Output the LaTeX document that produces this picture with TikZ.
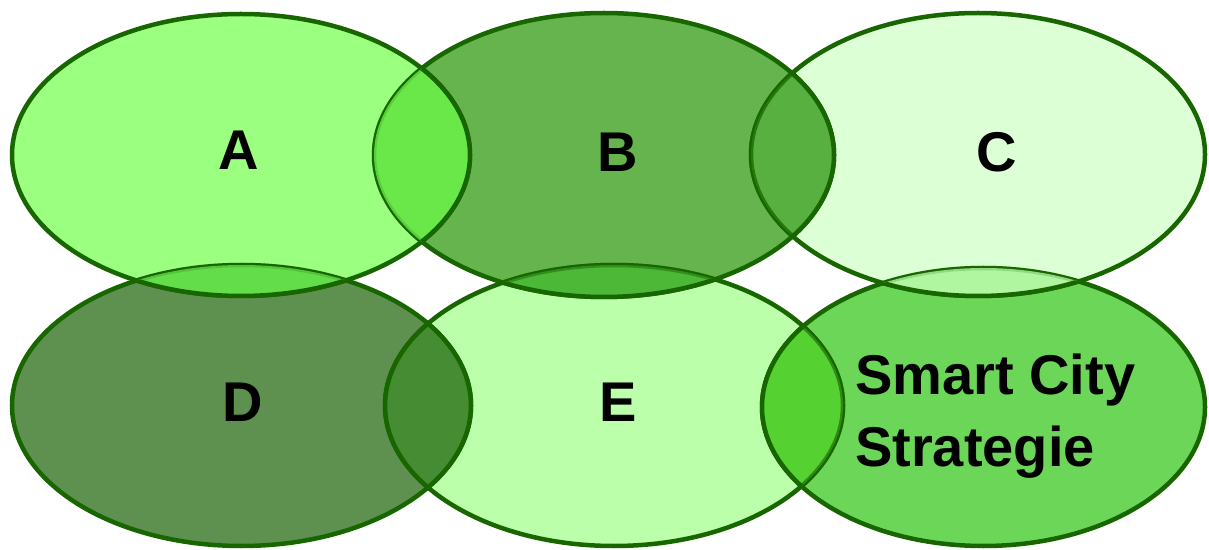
\documentclass[tikz,border=0pt]{standalone}
\usepackage{fontspec}
\setmainfont{Liberation Sans}
\definecolor{strokeG}{HTML}{186600}
\definecolor{cA}{HTML}{9BFF7F}
\definecolor{cB}{HTML}{66B44D}
\definecolor{cC}{HTML}{DDFFD5}
\definecolor{cD}{HTML}{5E9150}
\definecolor{cE}{HTML}{BBFFAA}
\definecolor{cF}{HTML}{6CD658}
\definecolor{cAB}{HTML}{6AE84A}
\definecolor{cAD}{HTML}{64DD4A}
\definecolor{cBC}{HTML}{58B040}
\definecolor{cBE}{HTML}{4DB837}
\definecolor{cCF}{HTML}{B0F5A0}
\definecolor{cDE}{HTML}{468C32}
\definecolor{cEF}{HTML}{55D232}
\def\ellA{(241,394) ellipse [x radius=229, y radius=141]}
\def\ellB{(604,394) ellipse [x radius=230, y radius=142]}
\def\ellC{(978,394.5) ellipse [x radius=227, y radius=141.5]}
\def\ellD{(241.5,143.5) ellipse [x radius=229.5, y radius=140.5]}
\def\ellE{(614,143.5) ellipse [x radius=229, y radius=140.5]}
\def\ellF{(983.5,142) ellipse [x radius=221.5, y radius=139]}
\begin{document}
\begin{tikzpicture}[x=1pt,y=1pt,
  ring/.style={draw=strokeG, line width=4.5pt},
  lbl/.style={font=\fontsize{56}{72}\selectfont\bfseries, text=black, inner sep=0pt}]
\useasboundingbox (0,0) rectangle (1209,549);
% fills
\fill[cA] \ellA; \fill[cB] \ellB; \fill[cC] \ellC;
\fill[cD] \ellD; \fill[cE] \ellE; \fill[cF] \ellF;
% strokes
\path[ring] \ellA; \path[ring] \ellB; \path[ring] \ellC;
\path[ring] \ellD; \path[ring] \ellE; \path[ring] \ellF;
% lens: top A over B
\begin{scope}\clip \ellA; \fill[cAB] \ellB; \path[ring, draw opacity=0.2] \ellB; \end{scope}
\begin{scope}\clip \ellB; \path[ring] \ellA; \end{scope}
% lens: top A over D
\begin{scope}\clip \ellA; \fill[cAD] \ellD; \path[ring, draw opacity=0.2] \ellD; \end{scope}
\begin{scope}\clip \ellD; \path[ring] \ellA; \end{scope}
% lens: top B over C
\begin{scope}\clip \ellB; \fill[cBC] \ellC; \path[ring, draw opacity=0.75] \ellC; \end{scope}
\begin{scope}\clip \ellC; \path[ring] \ellB; \end{scope}
% lens: top B over E
\begin{scope}\clip \ellB; \fill[cBE] \ellE; \path[ring, draw opacity=0.5] \ellE; \end{scope}
\begin{scope}\clip \ellE; \path[ring] \ellB; \end{scope}
% lens: top C over F
\begin{scope}\clip \ellC; \fill[cCF] \ellF; \path[ring, draw opacity=0.2] \ellF; \end{scope}
\begin{scope}\clip \ellF; \path[ring] \ellC; \end{scope}
% lens: D and E
\begin{scope}\clip \ellD; \fill[cDE] \ellE; \path[ring] \ellE; \end{scope}
\begin{scope}\clip \ellE; \path[ring] \ellD; \end{scope}
% lens: top F over E
\begin{scope}\clip \ellF; \fill[cEF] \ellE; \path[ring, draw opacity=0.65] \ellE; \end{scope}
\begin{scope}\clip \ellE; \path[ring] \ellF; \end{scope}
% labels
\node[lbl] (tA) at (239,399) {A};
\node[lbl] (tB) at (618,397) {B};
\node[lbl] (tC) at (997,397) {C};
\node[lbl] (tD) at (243,147) {D};
\node[lbl] (tE) at (618,147) {E};
\node[lbl, anchor=north west, align=left] (tF) at (855,195) {Smart City\\Strategie};
\end{tikzpicture}
\end{document}
